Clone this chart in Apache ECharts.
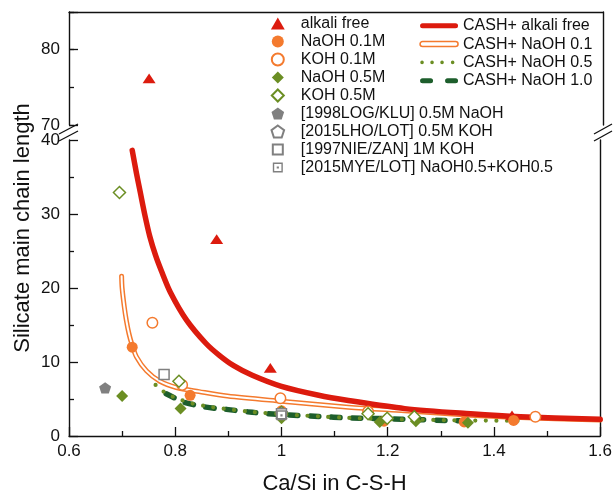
<!DOCTYPE html>
<html><head><meta charset="utf-8">
<script src="https://cdn.jsdelivr.net/npm/echarts@6/dist/echarts.min.js"></script>
<style>html,body{margin:0;padding:0;background:#fff}#c{width:615px;height:500px}</style>
</head><body><div id="c"></div>
<script>
// ---------- data ----------
const xTickLabels = ['0.6', '0.8', '1', '1.2', '1.4', '1.6'];
const alkaliFreeHigh = [[0.75, 76.2]];
const alkaliFreeLow = [[0.878, 26.6], [0.979, 9.2], [1.434, 2.8]];
const naoh01 = [[0.719, 12.0], [0.828, 5.5], [1.0, 3.4], [1.193, 2.0], [1.344, 1.9], [1.437, 2.1]];
const koh01 = [[0.757, 15.3], [0.813, 6.9], [0.998, 5.1], [1.163, 3.3], [1.478, 2.6]];
const naoh05 = [[0.700, 5.4], [0.810, 3.7], [1.0, 2.4], [1.185, 1.9], [1.253, 2.0], [1.351, 1.8]];
const koh05 = [[0.695, 32.9], [0.807, 7.4], [1.0, 3.2], [1.163, 3.0], [1.199, 2.4], [1.25, 2.6]];
const log1998 = [[0.668, 6.5]];
const lho2015 = [[1.0, 3.1]];
const nie1997 = [[0.779, 8.3], [1.0, 3.0]];
const mye2015 = [[1.0, 2.8]];

const cashAlkaliFree = [[0.719, 38.6], [0.727, 35.5], [0.734, 33.0], [0.743, 29.8], [0.752, 27.0], [0.763, 24.4],
  [0.774, 22.3], [0.791, 19.4], [0.821, 15.7], [0.858, 12.5], [0.883, 10.9], [0.91, 9.5], [0.945, 8.2],
  [1.0, 6.7], [1.07, 5.5], [1.126, 4.8], [1.232, 3.7], [1.356, 3.0], [1.45, 2.6], [1.6, 2.25]];
const cashNaOH01 = [[0.699, 21.6], [0.700, 20.0], [0.704, 17.5], [0.708, 15.6], [0.713, 13.8], [0.718, 12.5],
  [0.727, 10.7], [0.746, 8.8], [0.771, 7.4], [0.802, 6.55], [0.845, 6.0], [0.898, 5.4], [1.0, 4.7],
  [1.126, 3.9], [1.232, 3.4], [1.356, 2.8], [1.45, 2.5], [1.6, 2.15]];
const cashNaOH05 = [[0.763, 6.9], [0.774, 6.2], [0.79, 5.5], [0.81, 4.9], [0.832, 4.4], [0.86, 4.0], [0.89, 3.7],
  [0.945, 3.25], [1.0, 2.95], [1.07, 2.65], [1.126, 2.45], [1.19, 2.3], [1.26, 2.2], [1.35, 2.1], [1.453, 2.05]];
const cashNaOH10 = [[0.783, 5.7], [0.80, 5.1], [0.817, 4.55], [0.858, 3.9], [0.89, 3.65], [0.945, 3.2], [1.0, 2.9],
  [1.07, 2.65], [1.126, 2.45], [1.188, 2.35], [1.263, 2.2], [1.313, 2.1], [1.356, 2.05]];

// ---------- styles ----------
const FONT = '"Liberation Sans", Arial, sans-serif';
const RED = '#dc1b0e', ORANGE = '#f47a2e', OLIVE = '#6b8e23', DKGREEN = '#1d5e2c', GRAY = '#808080';
const TRI = 'path://M5 0L10 8.66L0 8.66Z';
const DIA = 'path://M5 0L10 5L5 10L0 5Z';
const PENT = 'path://M5 0L9.755 3.455L7.939 9.045L2.061 9.045L0.245 3.455Z';
const SQR = 'path://M-1 -1M11 11M0 0H10V10H0Z';
const SQDOT = 'path://M-1 -1M11 11M0 0H10V10H0Z M1.4 1.4V8.6H8.6V1.4Z M3.9 3.9H6.1V6.1H3.9Z';

function scatter(name, data, symbol, size, style, yAxisIndex, xAxisIndex) {
  return { type: 'scatter', name, data, symbol, symbolSize: size, symbolKeepAspect: true,
    xAxisIndex: xAxisIndex || 0, yAxisIndex: yAxisIndex || 0,
    itemStyle: Object.assign({ opacity: 1 }, style), emphasis: { disabled: true }, z: 5 };
}
function curve(name, data, lineStyle, z) {
  return { type: 'line', name, data, symbol: 'none', showSymbol: false, smooth: 0.3,
    xAxisIndex: 0, yAxisIndex: 0, lineStyle: Object.assign({ cap: 'round', join: 'round' }, lineStyle),
    emphasis: { disabled: true }, z: z || 2 };
}

const axisLineStyle = { color: '#111', width: 1.4 };
const chart = echarts.init(document.getElementById('c'), null, { renderer: 'canvas' });

const option = {
  animation: false,
  textStyle: { fontFamily: FONT },
  grid: [
    { left: 69, right: 12, top: 12, height: 113 },
    { left: 69, right: 12, top: 140, height: 301 }
  ],
  xAxis: [
    { type: 'value', gridIndex: 1, min: 0.6, max: 1.6, interval: 0.2, position: 'bottom',
      axisLine: { lineStyle: axisLineStyle }, splitLine: { show: false },
      axisTick: { inside: true, length: 9, lineStyle: { color: '#111', width: 1.3 } },
      minorTick: { show: true, splitNumber: 2, length: 5, lineStyle: { color: '#111', width: 1.3 } },
      axisLabel: { color: '#111', fontSize: 17, margin: 7, fontFamily: FONT,
        formatter: (v) => xTickLabels.find(t => Math.abs(parseFloat(t) - v) < 1e-6) || '' },
      name: 'Ca/Si in C-S-H', nameLocation: 'middle', nameGap: 37,
      nameTextStyle: { color: '#111', fontSize: 22, fontFamily: FONT } },
    { type: 'value', gridIndex: 0, min: 0.6, max: 1.6, position: 'top',
      axisLine: { lineStyle: axisLineStyle }, axisTick: { show: false }, axisLabel: { show: false },
      splitLine: { show: false } }
  ],
  yAxis: [
    { type: 'value', gridIndex: 1, min: 0, max: 40, interval: 10, position: 'left',
      axisLine: { show: true, lineStyle: axisLineStyle }, splitLine: { show: false },
      axisTick: { inside: true, length: 9, lineStyle: { color: '#111', width: 1.3 } },
      minorTick: { show: true, splitNumber: 2, length: 5, lineStyle: { color: '#111', width: 1.3 } },
      axisLabel: { color: '#111', fontSize: 17, margin: 9, fontFamily: FONT } },
    { type: 'value', gridIndex: 1, min: 0, max: 40, position: 'right',
      axisLine: { show: true, lineStyle: axisLineStyle }, axisTick: { show: false },
      axisLabel: { show: false }, splitLine: { show: false } },
    { type: 'value', gridIndex: 0, min: 70, max: 85, interval: 10, position: 'left',
      axisLine: { show: true, lineStyle: axisLineStyle }, splitLine: { show: false },
      axisTick: { inside: true, length: 9, lineStyle: { color: '#111', width: 1.3 } },
      axisLabel: { color: '#111', fontSize: 17, margin: 9, fontFamily: FONT,
        formatter: (v) => (v % 10 === 0 ? String(v) : '') } },
    { type: 'value', gridIndex: 0, min: 70, max: 85, interval: 5, position: 'left',
      axisLine: { show: false }, splitLine: { show: false },
      axisTick: { inside: true, length: 5, lineStyle: { color: '#111', width: 1.3 } },
      axisLabel: { show: false } },
    { type: 'value', gridIndex: 0, min: 70, max: 85, position: 'right',
      axisLine: { show: true, lineStyle: axisLineStyle }, axisTick: { show: false },
      axisLabel: { show: false }, splitLine: { show: false } }
  ],
  legend: [
    { orient: 'vertical', left: 270.5, top: 14.5, padding: 0, itemGap: 0, itemWidth: 36, itemHeight: 12,
      selectedMode: false, textStyle: { fontSize: 16, lineHeight: 18, color: '#111', fontFamily: FONT },
      data: ['alkali free', 'NaOH 0.1M', 'KOH 0.1M', 'NaOH 0.5M', 'KOH 0.5M',
        '[1998LOG/KLU] 0.5M NaOH', '[2015LHO/LOT] 0.5M KOH', '[1997NIE/ZAN] 1M KOH', '[2015MYE/LOT] NaOH0.5+KOH0.5'] },
    { orient: 'vertical', left: 419.3, top: 16.8, padding: 0, itemGap: 0.3, itemWidth: 38, itemHeight: 6,
      selectedMode: false, textStyle: { fontSize: 16, lineHeight: 18, color: '#111', fontFamily: FONT },
      data: [
        { name: 'CASH+ alkali free', icon: 'path://M2.5 0H35.5A2.5 2.5 0 0 1 35.5 5H2.5A2.5 2.5 0 0 1 2.5 0Z',
          itemStyle: { color: RED, borderWidth: 0 } },
        { name: 'CASH+ NaOH 0.1', icon: 'path://M2.5 0H35.5A2.5 2.5 0 0 1 35.5 5H2.5A2.5 2.5 0 0 1 2.5 0Z',
          itemStyle: { color: '#fff', borderColor: ORANGE, borderWidth: 1.5 } },
        { name: 'CASH+ NaOH 0.5', icon: 'path://M0 0M38 5M0.2 2.5A1.8 1.8 0 1 0 3.8 2.5A1.8 1.8 0 1 0 0.2 2.5Z M10.2 2.5A1.8 1.8 0 1 0 13.8 2.5A1.8 1.8 0 1 0 10.2 2.5Z M20.2 2.5A1.8 1.8 0 1 0 23.8 2.5A1.8 1.8 0 1 0 20.2 2.5Z M30.8 2.5A1.8 1.8 0 1 0 34.4 2.5A1.8 1.8 0 1 0 30.8 2.5Z',
          itemStyle: { color: OLIVE, borderWidth: 0 } },
        { name: 'CASH+ NaOH 1.0', icon: 'path://M0 0M38 5M2.5 0H10.5A2.5 2.5 0 0 1 10.5 5H2.5A2.5 2.5 0 0 1 2.5 0Z M27.5 0H35.5A2.5 2.5 0 0 1 35.5 5H27.5A2.5 2.5 0 0 1 27.5 0Z',
          itemStyle: { color: DKGREEN, borderWidth: 0 } }
      ] }
  ],
  series: [
    curve('CASH+ NaOH 1.0', cashNaOH10, { color: DKGREEN, width: 5.5, type: [8.5, 12.5] }, 2),
    curve('CASH+ NaOH 0.5', cashNaOH05, { color: OLIVE, width: 4.2, type: [0, 10.5] }, 2),
    curve('CASH+ NaOH 0.1', cashNaOH01, { color: ORANGE, width: 5 }, 3),
    curve('inner NaOH 0.1', cashNaOH01, { color: '#fff', width: 2 }, 3),
    curve('CASH+ alkali free', cashAlkaliFree, { color: RED, width: 5.5 }, 3),
    scatter('alkali free', alkaliFreeHigh, TRI, [13, 11.3], { color: RED }, 2, 1),
    scatter('alkali free', alkaliFreeLow, TRI, [13, 11.3], { color: RED }),
    scatter('NaOH 0.1M', naoh01, 'circle', 11, { color: ORANGE }),
    scatter('KOH 0.1M', koh01, 'circle', 10.5, { color: '#fff', borderColor: ORANGE, borderWidth: 1.5 }),
    scatter('NaOH 0.5M', naoh05, DIA, 12, { color: OLIVE }),
    scatter('KOH 0.5M', koh05, DIA, 12, { color: '#fff', borderColor: OLIVE, borderWidth: 1.5 }),
    scatter('[1998LOG/KLU] 0.5M NaOH', log1998, PENT, 12, { color: GRAY }),
    scatter('[2015LHO/LOT] 0.5M KOH', lho2015, PENT, 11, { color: '#fff', borderColor: GRAY, borderWidth: 1.3 }),
    scatter('[1997NIE/ZAN] 1M KOH', nie1997, SQR, 12, { color: '#fff', borderColor: GRAY, borderWidth: 1.5 }),
    scatter('[2015MYE/LOT] NaOH0.5+KOH0.5', mye2015, SQDOT, 12, { color: GRAY })
  ],
  graphic: [
    { type: 'text', x: 23, y: 228, rotation: Math.PI / 2,
      style: { text: 'Silicate main chain length', fontSize: 22, fontFamily: FONT, fill: '#111',
        textAlign: 'center', textVerticalAlign: 'middle' } },
    { type: 'line', shape: { x1: 59, y1: 134, x2: 78, y2: 124 }, style: { stroke: '#111', lineWidth: 1.3 }, z: 10 },
    { type: 'line', shape: { x1: 59, y1: 141, x2: 78, y2: 131 }, style: { stroke: '#111', lineWidth: 1.3 }, z: 10 },
    { type: 'line', shape: { x1: 594, y1: 134, x2: 612, y2: 124 }, style: { stroke: '#111', lineWidth: 1.3 }, z: 10 },
    { type: 'line', shape: { x1: 594, y1: 141, x2: 612, y2: 131 }, style: { stroke: '#111', lineWidth: 1.3 }, z: 10 }
  ]
};
chart.setOption(option);
</script>
</body></html>
